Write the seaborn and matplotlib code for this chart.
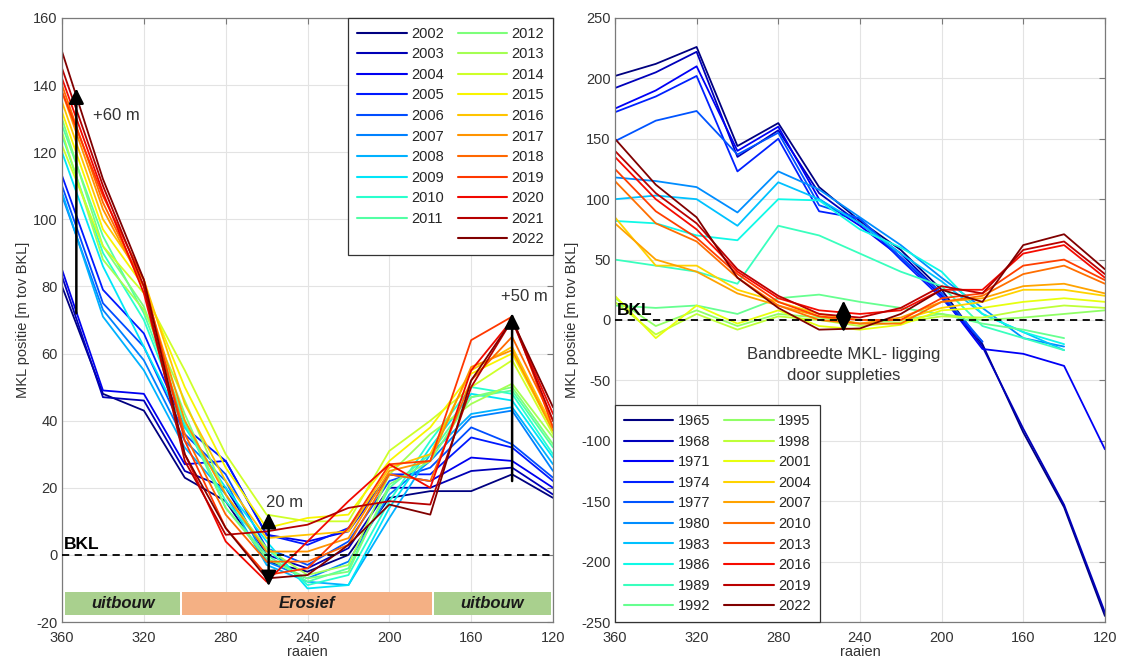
import numpy as np
import pandas as pd
import matplotlib
matplotlib.use('Agg')
import matplotlib.pyplot as plt
import seaborn as sns
from matplotlib.lines import Line2D
from matplotlib.patches import Rectangle

nan = np.nan

# raaien (x-as), loopt van 360 naar 120
raaien = [360, 340, 320, 300, 280, 260, 240, 220, 200, 180, 160, 140, 120]

# linker figuur: MKL positie 2002-2022
jaren_links = list(range(2002, 2023))
mkl_links = [
    [80, 48, 43, 23, 16, -2, -5, 0, 17, 19, 19, 24, 17],
    [83, 47, 46, 25, 20, 0, -4, 2, 20, 20, 25, 26, 18],
    [85, 49, 48, 27, 28, 6, 4, 7, 24, 22, 29, 28, 20],
    [113, 79, 66, 38, 28, 6, 3, 8, 24, 24, 35, 32, 22],
    [110, 75, 62, 36, 24, 2, -3, 4, 22, 26, 38, 33, 23],
    [107, 73, 58, 34, 22, -2, -7, -2, 18, 28, 41, 43, 25],
    [108, 71, 55, 32, 18, -3, -8, -9, 11, 30, 42, 44, 27],
    [120, 86, 62, 38, 20, 4, -10, -9, 14, 32, 48, 46, 29],
    [125, 90, 70, 39, 16, 2, -9, -6, 16, 34, 50, 48, 30],
    [128, 95, 72, 40, 14, 0, -8, -4, 20, 30, 47, 49, 32],
    [130, 92, 74, 42, 14, -1, -7, -5, 21, 28, 47, 50, 33],
    [126, 88, 73, 46, 18, 2, -6, -3, 24, 36, 45, 51, 35],
    [122, 92, 78, 55, 30, 12, 10, 10, 31, 40, 50, 58, 36],
    [132, 97, 80, 50, 26, 8, 11, 12, 28, 38, 54, 60, 37],
    [135, 100, 82, 45, 22, 5, 6, 7, 26, 30, 55, 62, 38],
    [138, 103, 80, 40, 18, 1, 1, 5, 25, 28, 56, 61, 37],
    [140, 105, 80, 36, 12, -2, -2, 3, 24, 22, 52, 65, 40],
    [138, 107, 82, 34, 8, -6, -4, 8, 27, 28, 64, 71, 38],
    [142, 108, 78, 30, 4, -8, 4, 16, 27, 20, 55, 70, 42],
    [145, 110, 80, 28, 6, 7, 9, 14, 16, 15, 50, 70, 40],
    [150, 112, 82, 30, 8, -7, -6, 3, 15, 12, 52, 70, 44],
]

# rechter figuur: MKL positie 1965-2022
jaren_rechts = list(range(1965, 2023, 3))
mkl_rechts = [
    [202, 212, 226, 144, 163, 110, 82, 58, 25, -20, -93, -155, -245],
    [192, 205, 222, 135, 157, 105, 80, 55, 22, -22, -90, -153, -242],
    [175, 190, 210, 140, 160, 100, 78, 52, 20, -24, -28, -38, -107],
    [172, 185, 202, 123, 150, 90, 84, 50, 18, -18, nan, nan, nan],
    [148, 165, 173, 137, 155, 95, 84, 52, 22, -18, nan, nan, nan],
    [118, 115, 110, 89, 123, 108, 85, 62, 35, 10, -15, -22, nan],
    [100, 103, 100, 78, 114, 100, 80, 55, 32, 5, -10, -25, nan],
    [82, 80, 70, 66, 100, 99, 75, 60, 40, 5, -10, -20, nan],
    [50, 45, 40, 30, 78, 70, 55, 40, 28, -5, -15, -25, nan],
    [12, 10, 12, 5, 18, 21, 15, 10, 5, -3, -8, -15, nan],
    [18, -5, 8, -5, 5, 2, -3, 0, 5, 0, 2, 5, 8],
    [15, -12, 5, -8, 3, 0, -5, -2, 3, 2, 8, 12, 10],
    [20, -15, 12, -3, 8, -5, -8, -4, 8, 10, 15, 18, 15],
    [85, 45, 45, 25, 15, 5, 0, 0, 10, 15, 25, 25, 20],
    [80, 50, 40, 22, 12, 3, -3, 2, 15, 18, 28, 30, 22],
    [115, 80, 65, 35, 12, 0, -3, -3, 15, 20, 38, 45, 30],
    [125, 90, 68, 38, 15, 3, 0, 0, 18, 22, 45, 50, 33],
    [135, 100, 75, 40, 18, 8, 5, 8, 25, 25, 55, 62, 35],
    [140, 105, 80, 42, 20, 5, 2, 10, 28, 22, 58, 65, 38],
    [150, 112, 85, 35, 10, -8, -7, 5, 25, 15, 62, 71, 42],
]


def to_long(jaren, waarden):
    rows = []
    for jaar, rij in zip(jaren, waarden):
        for r, v in zip(raaien, rij):
            rows.append((jaar, r, v))
    return pd.DataFrame(rows, columns=['jaar', 'raai', 'mkl']).dropna()


sns.set_theme(style='whitegrid')
plt.rcParams['font.family'] = ['Liberation Sans', 'DejaVu Sans']
plt.rcParams['axes.unicode_minus'] = False
tekst = '#333333'

fig = plt.figure(figsize=(11.3, 6.61), dpi=100)
ax1 = fig.add_axes([0.0549, 0.059, 0.4345, 0.9138])
ax2 = fig.add_axes([0.5442, 0.059, 0.4336, 0.9138])


def opmaak(ax, ymin, ymax, ystap):
    ax.set_xlim(360, 120)
    ax.set_ylim(ymin, ymax)
    ax.set_xticks(range(360, 119, -40))
    ax.set_yticks(range(ymin, ymax + 1, ystap))
    ax.grid(True, color='#e3e3e3', lw=0.8)
    ax.set_axisbelow(True)
    for s in ax.spines.values():
        s.set_visible(True)
        s.set_color('#7a7a7a')
        s.set_linewidth(0.9)
    ax.tick_params(direction='in', top=True, right=True, length=4, width=0.8,
                   color='#7a7a7a', labelcolor=tekst, labelsize=10.5, pad=3)
    ax.tick_params(axis='x', pad=6.5)
    ax.set_xlabel('raaien', fontsize=10.5, color=tekst, labelpad=0)
    ax.set_ylabel('MKL positie [m tov BKL]', fontsize=10.5, color=tekst, labelpad=2)
    ax.axhline(0, color='black', ls='--', lw=1.3, dashes=(4, 3), zorder=4)


def pijl(ax, x, y0, y1, dubbel=False):
    stijl = '<|-|>' if dubbel else '-|>'
    ax.annotate('', xy=(x, y1), xytext=(x, y0),
                arrowprops=dict(arrowstyle=stijl + ',head_length=0.6,head_width=0.3',
                                color='black', lw=1.8, mutation_scale=15,
                                shrinkA=0, shrinkB=0), zorder=5)


# ---- links ----
kleur_l = {j: plt.cm.jet(v) for j, v in zip(jaren_links, np.linspace(0, 1, len(jaren_links)))}
df_l = to_long(jaren_links, mkl_links)
sns.lineplot(data=df_l, x='raai', y='mkl', hue='jaar', hue_order=jaren_links,
             palette=kleur_l, estimator=None, legend=False, lw=1.3, ax=ax1)
opmaak(ax1, -20, 160, 20)

handles = [Line2D([], [], color=kleur_l[j], lw=1.5) for j in jaren_links]
labels = [str(j) for j in jaren_links]
leeg = Line2D([], [], color='none')
handles = handles[:10] + [leeg] + handles[10:]
labels = labels[:10] + [''] + labels[10:]
leg = ax1.legend(handles, labels, ncol=2, loc='upper right', bbox_to_anchor=(1, 1),
                 borderaxespad=0, fontsize=10.5, handlelength=3.4, handletextpad=0.3,
                 columnspacing=0.95, labelspacing=0.45, borderpad=0.6,
                 frameon=True, fancybox=False, framealpha=1, edgecolor='#333333')
leg.get_frame().set_linewidth(0.9)

pijl(ax1, 353, 72, 139)
pijl(ax1, 140, 22, 72)
pijl(ax1, 259, -9.3, 12.5, dubbel=True)
ax1.text(345, 131, '+60 m', fontsize=12, color=tekst, va='center', ha='left')
ax1.text(134, 77, '+50 m', fontsize=12, color=tekst, va='center', ha='center')
ax1.text(260.5, 15.5, '20 m', fontsize=12, color=tekst, va='center', ha='left')
ax1.text(359, 0.8, 'BKL', fontsize=12.5, fontweight='bold', color='black', va='bottom', ha='left')

groen = '#a9d08e'
oranje = '#f4b084'
for x0, x1, kleur, naam in [(358.5, 302.3, groen, 'uitbouw'),
                            (301.4, 179.2, oranje, 'Erosief'),
                            (178.2, 121.0, groen, 'uitbouw')]:
    ax1.add_patch(Rectangle((x1, -17.9), x0 - x1, 6.9, color=kleur, zorder=3, lw=0))
    ax1.text((x0 + x1) / 2, -14.5, naam, fontsize=12, fontweight='bold', fontstyle='italic',
             color='#1a1a1a', ha='center', va='center', zorder=4)

# ---- rechts ----
kleur_r = {j: plt.cm.jet(v) for j, v in zip(jaren_rechts, np.linspace(0, 1, len(jaren_rechts)))}
df_r = to_long(jaren_rechts, mkl_rechts)
sns.lineplot(data=df_r, x='raai', y='mkl', hue='jaar', hue_order=jaren_rechts,
             palette=kleur_r, estimator=None, legend=False, lw=1.3, ax=ax2)
opmaak(ax2, -250, 250, 50)

handles = [Line2D([], [], color=kleur_r[j], lw=1.5) for j in jaren_rechts]
labels = [str(j) for j in jaren_rechts]
leg = ax2.legend(handles, labels, ncol=2, loc='lower left', bbox_to_anchor=(0, 0),
                 borderaxespad=0, fontsize=10.5, handlelength=3.4, handletextpad=0.3,
                 columnspacing=0.95, labelspacing=0.45, borderpad=0.6,
                 frameon=True, fancybox=False, framealpha=1, edgecolor='#333333')
leg.get_frame().set_linewidth(0.9)

pijl(ax2, 248, -10, 16, dubbel=True)
ax2.text(359, 2, 'BKL', fontsize=12.5, fontweight='bold', color='black', va='bottom', ha='left')
ax2.text(248, -37.5, 'Bandbreedte MKL- ligging\ndoor suppleties', fontsize=12, color=tekst,
         ha='center', va='center', linespacing=1.5)

fig.savefig('out.png', dpi=100)
